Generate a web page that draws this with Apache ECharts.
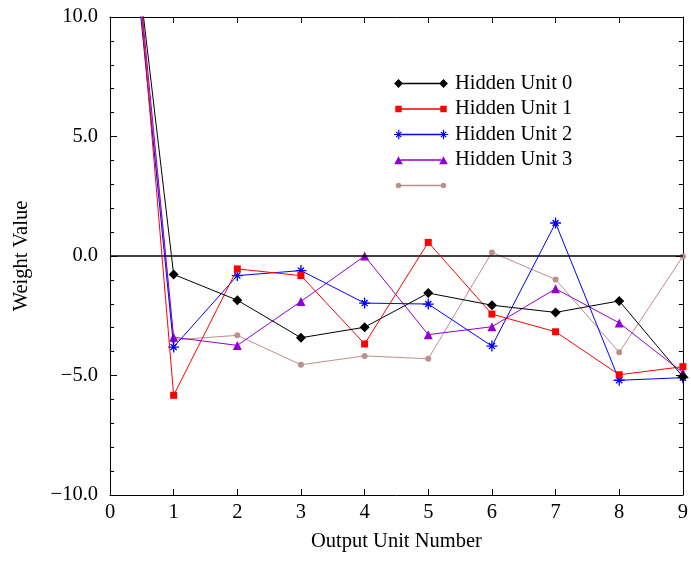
<!DOCTYPE html>
<html>
<head>
<meta charset="utf-8">
<script src="https://cdn.jsdelivr.net/npm/echarts@6/dist/echarts.min.js"></script>
<style>html,body{margin:0;padding:0;background:#fff}#c{width:691px;height:561px}</style>
</head>
<body>
<div id="c"></div>
<script>
// ---- data ----
var outputUnits = [0, 1, 2, 3, 4, 5, 6, 7, 8, 9];
var seriesNames = ['Hidden Unit 0', 'Hidden Unit 1', 'Hidden Unit 2', 'Hidden Unit 3', ' '];
var hidden0 = [22.0, -0.77, -1.85, -3.42, -2.98, -1.55, -2.06, -2.36, -1.88, -5.05];
var hidden1 = [26.0, -5.83, -0.54, -0.82, -3.68, 0.57, -2.43, -3.17, -4.97, -4.63];
var hidden2 = [23.0, -3.81, -0.82, -0.61, -1.97, -2.01, -3.77, 1.38, -5.20, -5.09];
var hidden3 = [24.0, -3.40, -3.74, -1.90, 0.00, -3.29, -2.96, -1.37, -2.80, -4.88];
var hidden4 = [23.5, -3.51, -3.32, -4.55, -4.18, -4.30, 0.15, -0.98, -4.03, -0.02];
var yTicks = [-10, -5, 0, 5, 10];

// ---- styling helpers ----
var FONT = '"Liberation Serif", "DejaVu Serif", serif';
var FS = 20.5;
function f(n){ return (Math.round(n*100)/100).toString(); }
function diamond(cx, cy, r){ return 'M'+f(cx)+' '+f(cy-r)+'L'+f(cx+r)+' '+f(cy)+'L'+f(cx)+' '+f(cy+r)+'L'+f(cx-r)+' '+f(cy)+'Z'; }
function square(cx, cy, r){ return 'M'+f(cx-r)+' '+f(cy-r)+'L'+f(cx+r)+' '+f(cy-r)+'L'+f(cx+r)+' '+f(cy+r)+'L'+f(cx-r)+' '+f(cy+r)+'Z'; }
function triangle(cx, cy, r){ return 'M'+f(cx)+' '+f(cy-r)+'L'+f(cx+r)+' '+f(cy+r*0.85)+'L'+f(cx-r)+' '+f(cy+r*0.85)+'Z'; }
function circle(cx, cy, r){ return 'M'+f(cx-r)+' '+f(cy)+'A'+r+' '+r+' 0 1 1 '+f(cx+r)+' '+f(cy)+'A'+r+' '+r+' 0 1 1 '+f(cx-r)+' '+f(cy)+'Z'; }
function bar(cx, cy, hl, hw, ang){
  var dx=Math.cos(ang), dy=Math.sin(ang), nx=-dy, ny=dx;
  var p=[[cx-hl*dx-hw*nx, cy-hl*dy-hw*ny],[cx+hl*dx-hw*nx, cy+hl*dy-hw*ny],[cx+hl*dx+hw*nx, cy+hl*dy+hw*ny],[cx-hl*dx+hw*nx, cy-hl*dy+hw*ny]];
  return 'M'+f(p[0][0])+' '+f(p[0][1])+'L'+f(p[1][0])+' '+f(p[1][1])+'L'+f(p[2][0])+' '+f(p[2][1])+'L'+f(p[3][0])+' '+f(p[3][1])+'Z';
}
function asterisk(cx, cy, r, hw){
  var s='';
  for (var k=0;k<4;k++){ var a=k*Math.PI/4; var hl = (k%2===1)? r*0.78 : r; s+=bar(cx,cy,hl,hw,a); }
  return s;
}
var W=56, H=10, LC=4.5, RC=49.5, CY=5;
function legendIcon(kind){
  var s='path://M0 0M'+W+' '+H;
  var m = {diamond:4.4, square:3.2, asterisk:4.8, triangle:4.3, circle:2.8}[kind];
  s += 'M'+f(LC+m*0.5)+' '+f(CY-0.7)+'L'+f(RC-m*0.5)+' '+f(CY-0.7)+'L'+f(RC-m*0.5)+' '+f(CY+0.7)+'L'+f(LC+m*0.5)+' '+f(CY+0.7)+'Z';
  [LC, RC].forEach(function(cx){
    if(kind==='diamond') s+=diamond(cx,CY,m);
    else if(kind==='square') s+=square(cx,CY,m);
    else if(kind==='triangle') s+=triangle(cx,CY+0.5,m);
    else if(kind==='circle') s+=circle(cx,CY,m);
    else s+=asterisk(cx,CY,m,0.6);
  });
  return s;
}
var starSymbol = 'path://M0 0M10 10' + asterisk(5,5,5,0.6);

var colors = ['#000000', '#ff0000', '#0000ff', '#9400d3', '#bc8f8f'];
var kinds = ['diamond', 'square', 'asterisk', 'triangle', 'circle'];
var symbols = ['diamond', 'rect', starSymbol, 'triangle', 'circle'];
var symSizes = [10, 7, 11, 9, 6];
var dataSets = [hidden0, hidden1, hidden2, hidden3, hidden4];

function pairs(vals){ return outputUnits.map(function(x,i){ return [x, vals[i]]; }); }

var series = dataSets.map(function(vals, i){
  return {
    name: seriesNames[i], type: 'line', data: pairs(vals),
    symbol: symbols[i], symbolSize: symSizes[i], symbolKeepAspect: true,
    showAllSymbol: true, clip: true, animation: false,
    lineStyle: {color: colors[i], width: 1},
    itemStyle: {color: colors[i], borderWidth: 0},
    emphasis: {disabled: true}, z: 3 + (4 - i)
  };
});
series[0].markLine = {
  silent: true, symbol: ['none','none'], label: {show: false},
  lineStyle: {color: '#000', width: 1.5, type: 'solid'},
  data: [{yAxis: 0}], animation: false
};

function yFmt(v){ return (v < 0 ? '\u2212' : '') + Math.abs(v).toFixed(1); }

var axisLine = {show: true, onZero: false, lineStyle: {color: '#000', width: 1}};
var tickStyle = {color: '#000', width: 1};

var chart = echarts.init(document.getElementById('c'), null, {renderer: 'canvas'});
chart.setOption({
  animation: false,
  backgroundColor: '#fff',
  grid: {left: 110, right: 6, top: 17, bottom: 66, containLabel: false},
  legend: {
    orient: 'vertical', left: 389, top: 68,
    itemWidth: W, itemHeight: H, itemGap: 4.5,
    textStyle: {fontFamily: FONT, fontSize: FS, color: '#000'},
    data: seriesNames.map(function(n, i){ return {name: n, icon: legendIcon(kinds[i]), itemStyle: {color: colors[i]}}; }),
    selectedMode: false
  },
  xAxis: [{
    type: 'value', position: 'bottom', min: 0, max: 9, interval: 1,
    axisLine: axisLine,
    axisTick: {show: true, inside: true, length: 6, lineStyle: tickStyle},
    axisLabel: {fontFamily: FONT, fontSize: FS, color: '#000', margin: 7},
    splitLine: {show: false},
    name: 'Output Unit Number', nameLocation: 'middle', nameGap: 36,
    nameTextStyle: {fontFamily: FONT, fontSize: FS, color: '#000'}
  }, {
    type: 'value', position: 'top', min: 0, max: 9, interval: 1,
    axisLine: axisLine,
    axisTick: {show: true, inside: true, length: 6, lineStyle: tickStyle},
    axisLabel: {show: false}, splitLine: {show: false}
  }],
  yAxis: [{
    type: 'value', position: 'left', min: yTicks[0], max: yTicks[yTicks.length-1], interval: 5,
    axisLine: axisLine,
    axisTick: {show: true, inside: true, length: 7, lineStyle: tickStyle},
    minorTick: {show: true, splitNumber: 5, length: 4, lineStyle: tickStyle},
    axisLabel: {fontFamily: FONT, fontSize: FS, color: '#000', margin: 12, formatter: yFmt},
    splitLine: {show: false},
    name: 'Weight Value', nameLocation: 'middle', nameGap: 78,
    nameTextStyle: {fontFamily: FONT, fontSize: FS, color: '#000'}
  }, {
    type: 'value', position: 'right', min: yTicks[0], max: yTicks[yTicks.length-1], interval: 5,
    axisLine: axisLine,
    axisTick: {show: true, inside: true, length: 7, lineStyle: tickStyle},
    minorTick: {show: true, splitNumber: 5, length: 4, lineStyle: tickStyle},
    axisLabel: {show: false}, splitLine: {show: false}
  }],
  series: series
});
</script>
</body>
</html>
